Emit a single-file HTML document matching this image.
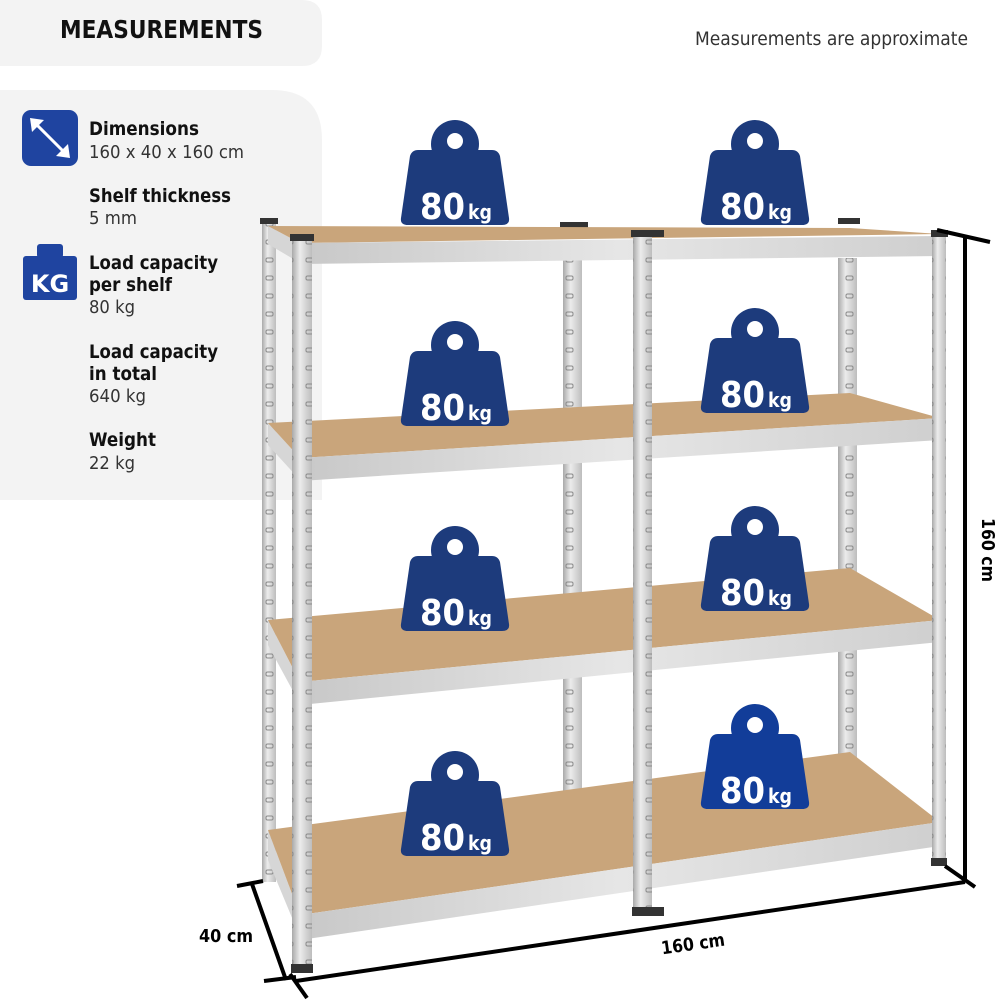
<!DOCTYPE html>
<html><head><meta charset="utf-8"><style>
html,body{margin:0;padding:0;background:#fff;}
svg{display:block;font-family:"DejaVu Sans","Liberation Sans",sans-serif;}
</style></head><body>
<svg width="1000" height="1000" viewBox="0 0 1000 1000" xmlns="http://www.w3.org/2000/svg">
<defs>
<linearGradient id="post" x1="0" x2="1" y1="0" y2="0">
<stop offset="0" stop-color="#a9a9a9"/><stop offset="0.4" stop-color="#ececec"/><stop offset="1" stop-color="#bdbdbd"/>
</linearGradient>
<linearGradient id="beam" x1="0" x2="1" y1="0" y2="0">
<stop offset="0" stop-color="#c8c8c8"/><stop offset="0.5" stop-color="#e6e6e6"/><stop offset="1" stop-color="#cfcfcf"/>
</linearGradient>
<pattern id="holes" width="20" height="18" patternUnits="userSpaceOnUse">
<rect x="6" y="6" width="7" height="4" rx="1.5" fill="none" stroke="#8a8a8a" stroke-width="1"/>
</pattern>
</defs>

<path d="M0,0 H302 Q322,0 322,20 V46 Q322,66 302,66 H0 Z" fill="#f3f3f3"/>
<path d="M0,90 H272 Q322,90 322,140 V500 H0 Z" fill="#f3f3f3"/>
<text x="60" y="38" font-size="25" font-weight="bold" fill="#111" textLength="203" lengthAdjust="spacingAndGlyphs">MEASUREMENTS</text>
<text x="695" y="45" font-size="19" fill="#333" textLength="273" lengthAdjust="spacingAndGlyphs">Measurements are approximate</text>

<rect x="22" y="110" width="56" height="56" rx="9" fill="#1f44a0"/>
<line x1="33" y1="121" x2="67" y2="155" stroke="#fff" stroke-width="3"/>
<polygon points="30,118 44,120 32,132" fill="#fff"/>
<polygon points="70,158 56,156 68,144" fill="#fff"/>
<rect x="37" y="244" width="26" height="14" rx="3" fill="#1f44a0"/>
<rect x="23" y="256" width="54" height="44" rx="3" fill="#1f44a0"/>
<text x="50" y="292" font-size="24" font-weight="bold" fill="#fff" text-anchor="middle">KG</text>

<g font-size="19" fill="#111">
<text x="89" y="135" font-weight="bold" textLength="110" lengthAdjust="spacingAndGlyphs">Dimensions</text>
<text x="89" y="158" font-size="18" fill="#333" textLength="155" lengthAdjust="spacingAndGlyphs">160 x 40 x 160 cm</text>
<text x="89" y="202" font-weight="bold" textLength="142" lengthAdjust="spacingAndGlyphs">Shelf thickness</text>
<text x="89" y="224" font-size="18" fill="#333" textLength="48" lengthAdjust="spacingAndGlyphs">5 mm</text>
<text x="89" y="269" font-weight="bold" textLength="129" lengthAdjust="spacingAndGlyphs">Load capacity</text>
<text x="89" y="291" font-weight="bold" textLength="83" lengthAdjust="spacingAndGlyphs">per shelf</text>
<text x="89" y="313" font-size="18" fill="#333" textLength="46" lengthAdjust="spacingAndGlyphs">80 kg</text>
<text x="89" y="358" font-weight="bold" textLength="129" lengthAdjust="spacingAndGlyphs">Load capacity</text>
<text x="89" y="380" font-weight="bold" textLength="68" lengthAdjust="spacingAndGlyphs">in total</text>
<text x="89" y="402" font-size="18" fill="#333" textLength="57" lengthAdjust="spacingAndGlyphs">640 kg</text>
<text x="89" y="446" font-weight="bold" textLength="67" lengthAdjust="spacingAndGlyphs">Weight</text>
<text x="89" y="469" font-size="18" fill="#333" textLength="46" lengthAdjust="spacingAndGlyphs">22 kg</text>
</g>

<rect x="262" y="222" width="14" height="660" fill="url(#post)"/>
<rect x="262" y="222" width="14" height="660" fill="url(#holes)"/>
<rect x="563" y="258" width="19" height="600" fill="url(#post)"/>
<rect x="563" y="258" width="19" height="600" fill="url(#holes)"/>
<rect x="838" y="258" width="19" height="500" fill="url(#post)"/>
<rect x="838" y="258" width="19" height="500" fill="url(#holes)"/>
<rect x="260" y="218" width="18" height="6" fill="#333"/>
<rect x="560" y="222" width="28" height="6" fill="#333"/>
<rect x="838" y="218" width="22" height="6" fill="#333"/>

<polygon points="268,226 300,243 300,263 268,244" fill="#d6d6d6"/>
<polygon points="268,423 300,458 300,480 268,445" fill="#d6d6d6"/>
<polygon points="268,620 300,682 300,704 268,645" fill="#d6d6d6"/>
<polygon points="268,830 300,915 300,937 268,860" fill="#d6d6d6"/>

<g fill="#c9a57b">
<polygon points="268,226 850,228 940,234 300,243"/>
<polygon points="268,423 850,393 940,418 300,458"/>
<polygon points="268,620 850,568 940,620 300,682"/>
<polygon points="268,830 850,752 940,822 300,915"/>
</g>
<g fill="url(#beam)">
<polygon points="300,243 940,236 940,256 300,264"/>
<polygon points="300,458 940,418 940,440 300,481"/>
<polygon points="300,682 940,620 940,642 300,705"/>
<polygon points="300,915 940,822 940,846 300,940"/>
</g>

<rect x="292" y="238" width="20" height="732" fill="url(#post)"/>
<rect x="292" y="238" width="20" height="732" fill="url(#holes)"/>
<rect x="633" y="234" width="19" height="680" fill="url(#post)"/>
<rect x="633" y="234" width="19" height="680" fill="url(#holes)"/>
<rect x="932" y="234" width="14" height="630" fill="url(#post)"/>
<rect x="932" y="234" width="14" height="630" fill="url(#holes)"/>
<rect x="290" y="234" width="24" height="7" fill="#333"/>
<rect x="631" y="230" width="33" height="7" fill="#333"/>
<rect x="931" y="230" width="17" height="7" fill="#333"/>
<rect x="291" y="964" width="22" height="9" fill="#333"/>
<rect x="632" y="907" width="32" height="9" fill="#333"/>
<rect x="931" y="858" width="16" height="8" fill="#333"/>

<g stroke="#000" stroke-width="4" fill="none">
<line x1="965" y1="236" x2="965" y2="882"/>
<line x1="937" y1="230" x2="990" y2="242"/>
<line x1="945" y1="866" x2="975" y2="887"/>
<line x1="296" y1="981" x2="965" y2="882"/>
<line x1="290" y1="974" x2="307" y2="998"/>
<line x1="252" y1="884" x2="286" y2="980"/>
<line x1="237" y1="886" x2="263" y2="881"/>
<line x1="264" y1="981" x2="296" y2="977"/>
</g>
<text x="226" y="942" font-size="18" font-weight="bold" text-anchor="middle" textLength="54" lengthAdjust="spacingAndGlyphs">40 cm</text>
<text x="693" y="950" font-size="18" font-weight="bold" text-anchor="middle" transform="rotate(-8 693 944)" textLength="64" lengthAdjust="spacingAndGlyphs">160 cm</text>
<text x="982" y="550" font-size="18" font-weight="bold" text-anchor="middle" transform="rotate(90 982 550)" textLength="64" lengthAdjust="spacingAndGlyphs">160 cm</text>

<g font-family="DejaVu Sans, sans-serif" font-weight="bold" fill="#fff">
<g transform="translate(455,122)">
<circle cx="0" cy="22" r="24" fill="#1d3b7c"/>
<path d="M-37,28 L37,28 Q43,28 45,34 L54,96 Q55,103 47,103 L-47,103 Q-55,103 -54,96 L-45,34 Q-43,28 -37,28 Z" fill="#1d3b7c"/>
<circle cx="0" cy="19" r="8" fill="#fff"/>
<text x="-35" y="97" font-size="36" textLength="45" lengthAdjust="spacingAndGlyphs">80</text>
<text x="13" y="97" font-size="20" textLength="24" lengthAdjust="spacingAndGlyphs">kg</text>
</g>
<g transform="translate(755,122)">
<circle cx="0" cy="22" r="24" fill="#1d3b7c"/>
<path d="M-37,28 L37,28 Q43,28 45,34 L54,96 Q55,103 47,103 L-47,103 Q-55,103 -54,96 L-45,34 Q-43,28 -37,28 Z" fill="#1d3b7c"/>
<circle cx="0" cy="19" r="8" fill="#fff"/>
<text x="-35" y="97" font-size="36" textLength="45" lengthAdjust="spacingAndGlyphs">80</text>
<text x="13" y="97" font-size="20" textLength="24" lengthAdjust="spacingAndGlyphs">kg</text>
</g>
<g transform="translate(455,323)">
<circle cx="0" cy="22" r="24" fill="#1d3b7c"/>
<path d="M-37,28 L37,28 Q43,28 45,34 L54,96 Q55,103 47,103 L-47,103 Q-55,103 -54,96 L-45,34 Q-43,28 -37,28 Z" fill="#1d3b7c"/>
<circle cx="0" cy="19" r="8" fill="#fff"/>
<text x="-35" y="97" font-size="36" textLength="45" lengthAdjust="spacingAndGlyphs">80</text>
<text x="13" y="97" font-size="20" textLength="24" lengthAdjust="spacingAndGlyphs">kg</text>
</g>
<g transform="translate(755,310)">
<circle cx="0" cy="22" r="24" fill="#1d3b7c"/>
<path d="M-37,28 L37,28 Q43,28 45,34 L54,96 Q55,103 47,103 L-47,103 Q-55,103 -54,96 L-45,34 Q-43,28 -37,28 Z" fill="#1d3b7c"/>
<circle cx="0" cy="19" r="8" fill="#fff"/>
<text x="-35" y="97" font-size="36" textLength="45" lengthAdjust="spacingAndGlyphs">80</text>
<text x="13" y="97" font-size="20" textLength="24" lengthAdjust="spacingAndGlyphs">kg</text>
</g>
<g transform="translate(455,528)">
<circle cx="0" cy="22" r="24" fill="#1d3b7c"/>
<path d="M-37,28 L37,28 Q43,28 45,34 L54,96 Q55,103 47,103 L-47,103 Q-55,103 -54,96 L-45,34 Q-43,28 -37,28 Z" fill="#1d3b7c"/>
<circle cx="0" cy="19" r="8" fill="#fff"/>
<text x="-35" y="97" font-size="36" textLength="45" lengthAdjust="spacingAndGlyphs">80</text>
<text x="13" y="97" font-size="20" textLength="24" lengthAdjust="spacingAndGlyphs">kg</text>
</g>
<g transform="translate(755,508)">
<circle cx="0" cy="22" r="24" fill="#1d3b7c"/>
<path d="M-37,28 L37,28 Q43,28 45,34 L54,96 Q55,103 47,103 L-47,103 Q-55,103 -54,96 L-45,34 Q-43,28 -37,28 Z" fill="#1d3b7c"/>
<circle cx="0" cy="19" r="8" fill="#fff"/>
<text x="-35" y="97" font-size="36" textLength="45" lengthAdjust="spacingAndGlyphs">80</text>
<text x="13" y="97" font-size="20" textLength="24" lengthAdjust="spacingAndGlyphs">kg</text>
</g>
<g transform="translate(455,753)">
<circle cx="0" cy="22" r="24" fill="#1d3b7c"/>
<path d="M-37,28 L37,28 Q43,28 45,34 L54,96 Q55,103 47,103 L-47,103 Q-55,103 -54,96 L-45,34 Q-43,28 -37,28 Z" fill="#1d3b7c"/>
<circle cx="0" cy="19" r="8" fill="#fff"/>
<text x="-35" y="97" font-size="36" textLength="45" lengthAdjust="spacingAndGlyphs">80</text>
<text x="13" y="97" font-size="20" textLength="24" lengthAdjust="spacingAndGlyphs">kg</text>
</g>
<g transform="translate(755,706)">
<circle cx="0" cy="22" r="24" fill="#123d99"/>
<path d="M-37,28 L37,28 Q43,28 45,34 L54,96 Q55,103 47,103 L-47,103 Q-55,103 -54,96 L-45,34 Q-43,28 -37,28 Z" fill="#123d99"/>
<circle cx="0" cy="19" r="8" fill="#fff"/>
<text x="-35" y="97" font-size="36" textLength="45" lengthAdjust="spacingAndGlyphs">80</text>
<text x="13" y="97" font-size="20" textLength="24" lengthAdjust="spacingAndGlyphs">kg</text>
</g>
</g>
</svg>
</body></html>
